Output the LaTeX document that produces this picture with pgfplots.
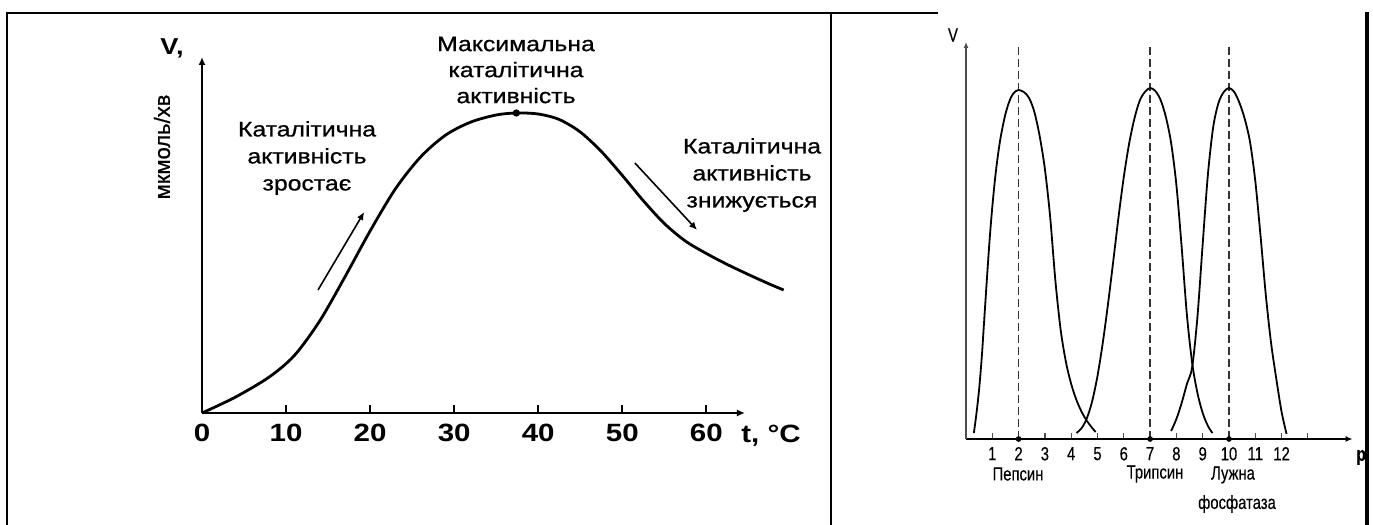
\documentclass[border=0pt]{standalone}
\usepackage{fontspec}
\setmainfont{Liberation Sans}
\newfontfamily\leftfont[FakeStretch=1.18]{Liberation Sans}
\newfontfamily\leftboldish[FakeStretch=1.18,FakeBold=0.8]{Liberation Sans}
\newfontfamily\ylabfont[FakeBold=0.8]{Liberation Sans}
\newfontfamily\narrowfont[FakeStretch=0.78,FakeBold=0.3]{Liberation Sans}
\usepackage{pgfplots}
\pgfplotsset{compat=1.18}
\usetikzlibrary{arrows.meta}

\begin{document}
\begin{tikzpicture}[x=0.5pt,y=0.5pt]
\useasboundingbox (0,0) rectangle (1373,525);

% ---------------- left chart ----------------
\begin{axis}[
  at={(101pt,56pt)}, anchor=south west, scale only axis,
  width=271.5pt, height=178pt,
  xmin=0, xmax=64.6, ymin=0, ymax=356,
  axis lines=left, clip=false,
  x axis line style={line width=1.1pt, -{Latex[length=4pt,width=3.5pt]}},
  y axis line style={line width=1.1pt, -{Latex[length=4pt,width=3.5pt]}},
  xtick={0,10,20,30,40,50,60}, ytick=\empty,
  tick align=inside, major tick length=4pt,
  tick style={line width=1pt, black},
  xticklabel style={font=\leftfont\bfseries\fontsize{12.5}{14}\selectfont, yshift=-2pt},
  /pgf/number format/assume math mode=true,
]
\addplot[line width=1.4pt, smooth, black] coordinates {
 (0,0) (4,16) (8,36) (11,57.6) (14,92) (17,136) (20,182) (23,224) (26,256)
 (29,278) (32,291) (35,298) (37.4,300) (40,299) (42.5,293.5) (45,281)
 (47.5,261.6) (50,237.6) (52.5,212.3) (55,189.5) (57.5,172) (60,159.5)
 (62.5,148.5) (65,138.5) (67.5,129) (69.2,123)
};
\addplot[only marks, mark=*, mark size=1.6pt, black] coordinates {(37.4,300)};
\draw[line width=0.8pt, -{Latex[length=4pt,width=3.5pt]}] (axis cs:13.8,123) -- (axis cs:19.3,201);
\draw[line width=0.8pt, -{Latex[length=4pt,width=3.5pt]}] (axis cs:51.5,250) -- (axis cs:58.9,183);
\end{axis}

\node[font=\leftfont\bfseries\fontsize{11.5}{13}\selectfont] at (172,477) {V,};
\node[rotate=90, font=\ylabfont\fontsize{11}{13}\selectfont] at (162,378) {мкмоль/хв};
\node[align=center, font=\leftboldish\fontsize{10.5}{13}\selectfont] at (516,455) {Максимальна\\каталітична\\активність};
\node[align=center, font=\leftboldish\fontsize{10.5}{13.5}\selectfont] at (307,367) {Каталітична\\активність\\зростає};
\node[align=center, font=\leftboldish\fontsize{10.5}{13.5}\selectfont] at (752,350) {Каталітична\\активність\\знижується};
\node[font=\leftfont\bfseries\fontsize{12.5}{14}\selectfont] at (771,89) {t, °C};

% ---------------- right chart ----------------
\begin{axis}[
  at={(483pt,43pt)}, anchor=south west, scale only axis,
  width=193.3pt, height=198.5pt,
  xmin=0, xmax=14.7, ymin=0, ymax=397,
  axis lines=left, clip=false,
  x axis line style={line width=0.8pt, -{Latex[length=3.5pt,width=3pt]}},
  y axis line style={line width=0.6pt, black!70, -{Latex[length=3pt,width=2.5pt]}},
  xtick={1,2,3,4,5,6,7,8,9,10,11,12,13},
  xticklabels={1,2,3,4,5,6,7,8,9,10,11,12,{}},
  ytick=\empty,
  tick align=inside, major tick length=3pt,
  tick style={line width=0.6pt, black!70},
  xticklabel style={font=\narrowfont\fontsize{9.5}{10}\selectfont, yshift=-0.5pt},
  /pgf/number format/assume math mode=true,
]
\addplot[black!80, line width=0.8pt, dash pattern=on 4pt off 2pt] coordinates {(2,0) (2,394)};
\addplot[black!80, line width=0.8pt, dash pattern=on 4pt off 2pt] coordinates {(7,0) (7,394)};
\addplot[black!80, line width=0.8pt, dash pattern=on 4pt off 2pt] coordinates {(10,0) (10,394)};
% Pepsin
\addplot[line width=0.9pt, smooth, black] coordinates {
 (0.30,6) (0.40,26) (0.50,50) (0.60,82) (0.70,122) (0.80,162) (0.90,200)
 (1.00,232) (1.10,259) (1.20,281) (1.30,299) (1.40,313) (1.50,325) (1.60,334)
 (1.70,341) (1.80,345.5) (1.90,348) (2.00,349) (2.20,347) (2.40,341) (2.60,327)
 (2.80,303) (3.00,270) (3.20,222) (3.40,158) (3.60,109) (3.80,77) (4.00,55)
 (4.20,39) (4.40,27) (4.60,18) (4.80,11) (4.93,7)
};
% Trypsin
\addplot[line width=0.9pt, smooth, black] coordinates {
 (4.20,6) (4.40,11) (4.60,21) (4.80,38) (5.00,63) (5.20,96) (5.40,135)
 (5.60,178) (5.80,222) (6.00,262) (6.20,295) (6.40,320) (6.60,338) (6.80,347)
 (7.00,351) (7.20,348) (7.40,339) (7.60,322) (7.80,296) (8.00,254) (8.20,192)
 (8.40,124) (8.60,76) (8.80,46) (9.00,26) (9.20,13) (9.37,6)
};
% Alkaline phosphatase
\addplot[line width=0.9pt, smooth, black] coordinates {
 (7.80,8) (8.00,20) (8.20,36) (8.40,55) (8.60,72) (8.80,122) (9.00,195)
 (9.20,265) (9.40,312) (9.60,336) (9.80,347) (10.00,351) (10.20,347)
 (10.40,336) (10.60,320) (10.80,297) (11.00,258) (11.20,203) (11.40,144)
 (11.60,96) (11.80,60) (12.00,27) (12.19,5)
};
\addplot[only marks, mark=*, mark size=1.2pt, black] coordinates {(2,0) (7,0) (10,0)};
\end{axis}

\node[font=\narrowfont\fontsize{9.5}{10}\selectfont] at (953,490) {V};
\node[inner sep=1pt, font=\narrowfont\fontsize{9.5}{10}\selectfont] at (1018,51) {Пепсин};
\node[inner sep=1pt, font=\narrowfont\fontsize{9.5}{10}\selectfont] at (1155,51) {Трипсин};
\node[inner sep=1pt, font=\narrowfont\fontsize{9.5}{10}\selectfont] at (1233,50) {Лужна};
\node[inner sep=1pt, font=\narrowfont\fontsize{9.5}{10}\selectfont] at (1237,21) {фосфатаза};
\node[anchor=west, inner sep=0pt, font=\narrowfont\bfseries\fontsize{10}{11}\selectfont] at (1356,69) {pH};

% ---------------- frame ----------------
\fill[white] (1369,0) rectangle (1380,525);
\draw[line width=1.2pt] (7,0) -- (7,512) -- (938,512);
\draw[line width=1.2pt] (831,512) -- (831,0);
\draw[line width=2pt] (1367,513) -- (1367,0);
\end{tikzpicture}
\end{document}
